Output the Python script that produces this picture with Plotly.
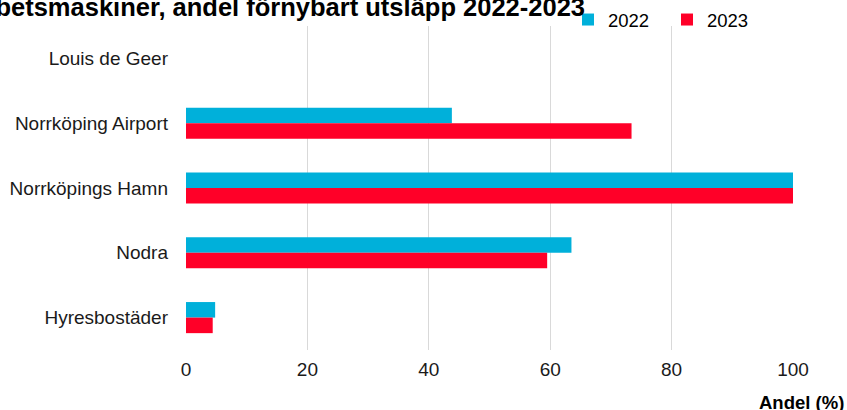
import plotly.graph_objects as go

categories = ["Louis de Geer", "Norrköping Airport", "Norrköpings Hamn", "Nodra", "Hyresbostäder"]
values_2022 = [None, 43.8, 100, 63.5, 4.8]
values_2023 = [None, 73.4, 100, 59.5, 4.4]
x_ticks = [0, 20, 40, 60, 80, 100]

FONT = "Arial, Liberation Sans, sans-serif"
BLUE = "#00B0DA"
RED = "#FF0028"

fig = go.Figure()
fig.add_trace(go.Bar(y=categories, x=values_2022, name="2022", orientation="h",
                     marker=dict(color=BLUE, line=dict(width=0))))
fig.add_trace(go.Bar(y=categories, x=values_2023, name="2023", orientation="h",
                     marker=dict(color=RED, line=dict(width=0))))

W, H = 847, 410
L, R, T, B = 186, 54, 26, 60

fig.update_layout(
    width=W, height=H,
    margin=dict(l=L, r=R, t=T, b=B, pad=0, autoexpand=False),
    paper_bgcolor="white", plot_bgcolor="white",
    font=dict(family=FONT, size=19, color="#1a1a1a"),
    barmode="group", bargap=0.52, bargroupgap=0,
    title=dict(text="<b>Arbetsmaskiner, andel förnybart utsläpp 2022-2023</b>",
               font=dict(family=FONT, size=25.5, color="#000000"),
               xref="container", yref="container",
               x=585 / W, xanchor="right", y=1 - 7.5 / H, yanchor="middle"),
    legend=dict(orientation="h", xref="container", yref="container",
                x=568 / W, xanchor="left", y=1 - 20 / H, yanchor="middle",
                font=dict(family=FONT, size=18.5, color="#000000"),
                bgcolor="rgba(0,0,0,0)", borderwidth=0,
                itemwidth=30, entrywidth=54, traceorder="normal"),
    xaxis=dict(range=[0, 100], tickvals=x_ticks, ticktext=[str(v) for v in x_ticks],
               showgrid=True, gridcolor="#D9D9D9", gridwidth=1,
               zeroline=False, showline=False, ticks="",
               ticklabelstandoff=6, fixedrange=True),
    yaxis=dict(autorange="reversed", showgrid=False, zeroline=False, showline=False,
               ticks="", ticklabelstandoff=17, fixedrange=True),
    annotations=[dict(text="<b>Andel (%)</b>", xref="paper", yref="paper",
                      x=1 + (846 - (W - R)) / (W - L - R), xanchor="right",
                      y=-(402 - (H - B)) / (H - T - B), yanchor="middle",
                      showarrow=False, font=dict(family=FONT, size=18.5, color="#000000"))],
)

fig.write_html("out.html", config={"displayModeBar": False},
               post_script="document.body.style.margin='0px';")
